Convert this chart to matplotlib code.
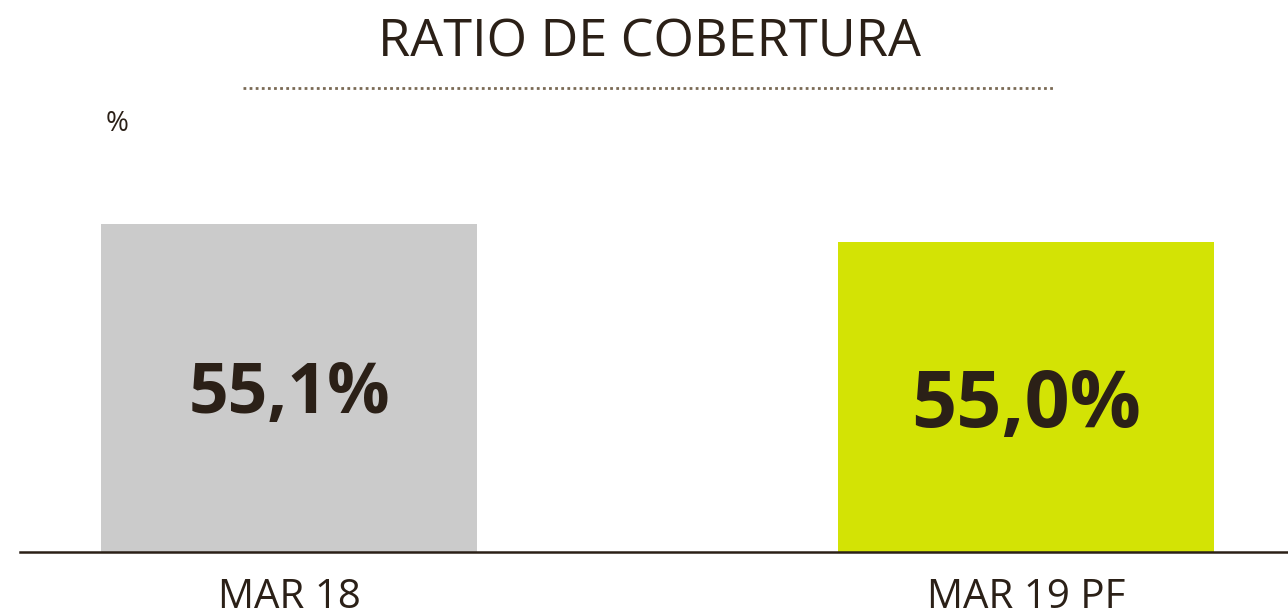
import matplotlib
matplotlib.use("Agg")
import matplotlib.pyplot as plt
from matplotlib.lines import Line2D

categories = ["MAR 18", "MAR 19 PF"]
values = [55.1, 55.0]
labels = ["55,1%", "55,0%"]
colors = ["#cbcbcb", "#d3e305"]
label_sizes = [50, 57]

INK = "#2b2017"
W, H = 1288, 616

fig = plt.figure(figsize=(W / 100, H / 100), dpi=100)
# axes: baseline at y=552px, top at 100px; x from 20px to right edge
ax = fig.add_axes([20 / W, (H - 552) / H, 1 - 20 / W, (552 - 100) / H])

x = range(len(categories))
ax.bar(x, values, width=0.51, color=colors, zorder=2)
ax.set_xlim(-0.365, 1.355)
ax.set_ylim(53.23, 55.807)

for xi, v, lab, fs, frac in zip(x, values, labels, label_sizes, [0.48, 0.47]):
    ax.text(xi, 53.23 + (v - 53.23) * frac, lab, ha="center", va="center",
            fontsize=fs, fontweight="bold", color=INK, family=["Open Sans", "DejaVu Sans"])

for s in ("top", "right", "left"):
    ax.spines[s].set_visible(False)
ax.spines["bottom"].set_color(INK)
ax.spines["bottom"].set_linewidth(1.8)
ax.set_yticks([])
ax.set_xticks(list(x))
ax.set_xticklabels(categories, fontsize=29, color=INK, family=["Open Sans", "DejaVu Sans"])
ax.tick_params(axis="x", length=0, pad=18)

fig.text(649 / W, 1 - 43 / H, "RATIO DE COBERTURA", ha="center", va="center",
         fontsize=37.5, color=INK, fontweight="medium",
         family=["Open Sans", "DejaVu Sans"])
fig.add_artist(Line2D([243 / W, 1055 / W], [1 - 88 / H, 1 - 88 / H],
                      color="#7a6a55", linewidth=2, linestyle=(0, (1, 1.2))))
fig.text(117 / W, 1 - 124 / H, "%", ha="center", va="center",
         fontsize=20, color=INK, family=["Open Sans", "DejaVu Sans"])

fig.savefig("out.png", dpi=100)
